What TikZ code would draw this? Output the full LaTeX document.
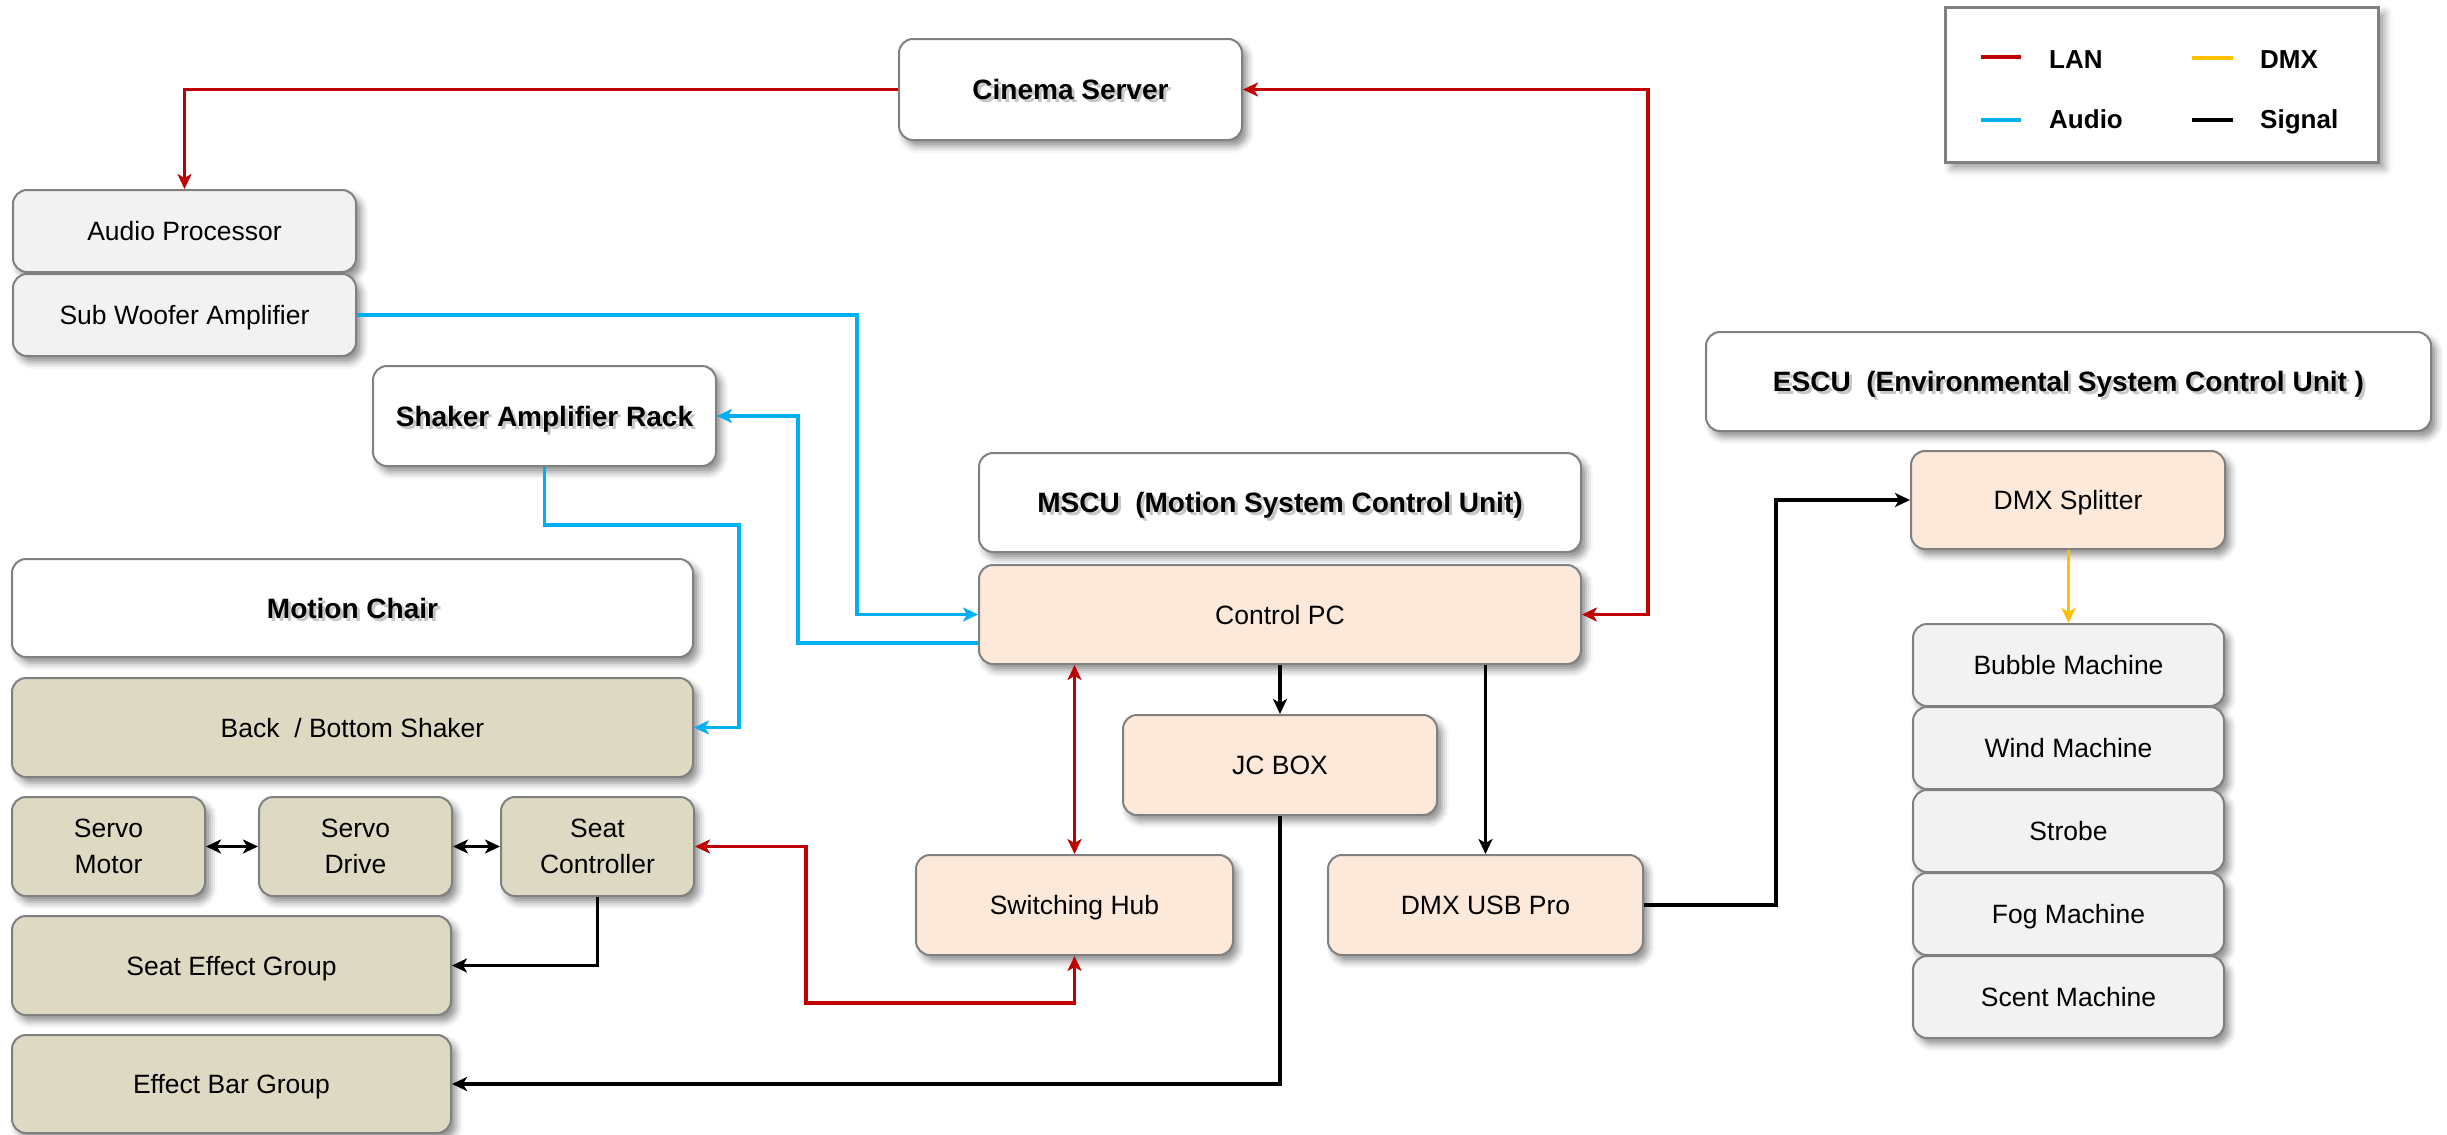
\documentclass[tikz,border=0pt]{standalone}
\usepackage{fontspec}
\setmainfont{Liberation Sans}
\usetikzlibrary{arrows.meta,calc,shadows.blur}
\definecolor{boxborder}{HTML}{808080}
\definecolor{boxgray}{HTML}{F2F2F2}
\definecolor{boxpeach}{HTML}{FCE9DA}
\definecolor{boxtan}{HTML}{DDD9C3}
\definecolor{lanred}{HTML}{C00000}
\definecolor{audioblue}{HTML}{00B0F0}
\definecolor{dmxyellow}{HTML}{FFC000}
\newcommand\tsh[1]{\leavevmode\rlap{\kern3pt\raisebox{-3pt}{\color{black!22}#1}}#1}
\newcommand\mybx[7]{\node[#6, minimum width={#4-#2}, minimum height={#5-#3}] (#1) at ({(#2+#4)/2},{(#3+#5)/2}) {#7};}
\tikzset{
  base/.style={draw=boxborder, line width=2pt, rounded corners=14pt,
    blur shadow={shadow xshift=5pt, shadow yshift=-6pt, shadow blur radius=7pt, shadow opacity=45},
    font=\fontsize{26.5}{36}\selectfont, align=center, inner sep=0pt, text depth=0pt},
  graybox/.style={base, fill=boxgray},
  peachbox/.style={base, fill=boxpeach},
  tanbox/.style={base, fill=boxtan},
  titlebox/.style={base, fill=white, font=\bfseries\fontsize{28}{34}\selectfont},
  wire/.style={line width=3.5pt, >={Stealth[length=15pt,width=14pt,inset=4pt]}},
  lan/.style={wire, draw=lanred},
  audio/.style={wire, draw=audioblue},
  dmx/.style={wire, draw=dmxyellow},
  sig/.style={wire, draw=black},
  legtext/.style={font=\bfseries\fontsize{26}{30}\selectfont, anchor=base west, inner sep=0pt},
}
\begin{document}
\begin{tikzpicture}[x=1pt,y=-1pt]
\useasboundingbox (0,0) rectangle (2447,1135);
% legend
\node[draw=boxborder, line width=2.5pt, fill=white,
  blur shadow={shadow xshift=6pt, shadow yshift=-6pt, shadow blur radius=8pt, shadow opacity=40},
  minimum width=433, minimum height=155] (leg) at (2162,85) {};
\draw[line width=4pt, lanred] (1981,57) -- (2021,57);
\draw[line width=4pt, dmxyellow] (2192,58) -- (2233,58);
\draw[line width=4pt, audioblue] (1981,120) -- (2021,120);
\draw[line width=4pt, black] (2192,120) -- (2233,120);
\node[legtext] (tlan) at (2049,68) {LAN};
\node[legtext] (tdmx) at (2260,68) {DMX};
\node[legtext] (taud) at (2049,128) {Audio};
\node[legtext] (tsig) at (2260,128) {Signal};
% boxes
\mybx{cs}{899}{39}{1242}{140}{titlebox}{\tsh{Cinema Server}}
\mybx{ap}{13}{190}{356}{272}{graybox}{Audio Processor}
\mybx{sw}{13}{274}{356}{356}{graybox}{Sub Woofer Amplifier}
\mybx{sar}{373}{366}{716}{466}{titlebox}{\tsh{Shaker Amplifier Rack}}
\mybx{mc}{12}{559}{693}{657}{titlebox}{\tsh{Motion Chair}}
\mybx{bb}{12}{678}{693}{777}{tanbox}{Back\ \ / Bottom Shaker}
\mybx{sm}{12}{797}{205}{896}{tanbox}{Servo\\Motor}
\mybx{sd}{259}{797}{452}{896}{tanbox}{Servo\\Drive}
\mybx{sc}{501}{797}{694}{896}{tanbox}{Seat\\Controller}
\mybx{seg}{12}{916}{451}{1015}{tanbox}{Seat Effect Group}
\mybx{ebg}{12}{1035}{451}{1133}{tanbox}{Effect Bar Group}
\mybx{mscu}{979}{453}{1581}{552}{titlebox}{\tsh{MSCU\ \ (Motion System Control Unit)}}
\mybx{pc}{979}{565}{1581}{664}{peachbox}{Control PC}
\mybx{jc}{1123}{715}{1437}{815}{peachbox}{JC BOX}
\mybx{hub}{916}{855}{1233}{955}{peachbox}{Switching Hub}
\mybx{usb}{1328}{855}{1643}{955}{peachbox}{DMX USB Pro}
\mybx{escu}{1706}{332}{2431}{431}{titlebox}{\tsh{ESCU\ \ (Environmental System Control Unit )}}
\mybx{spl}{1911}{451}{2225}{549}{peachbox}{DMX Splitter}
\mybx{bub}{1913}{624}{2224}{706}{graybox}{Bubble Machine}
\mybx{wind}{1913}{707}{2224}{789}{graybox}{Wind Machine}
\mybx{strobe}{1913}{790}{2224}{872}{graybox}{Strobe}
\mybx{fog}{1913}{873}{2224}{955}{graybox}{Fog Machine}
\mybx{scent}{1913}{956}{2224}{1038}{graybox}{Scent Machine}
% connectors
\draw[lan,->] (cs.west) -| (ap.north);
\draw[lan,<->] (cs.east) -| ($(pc.east)+(66,0)$) -- (pc.east);
\draw[audio,->] (sw.east) -| ($(pc.west)+(-121,0)$) -- (pc.west);
\draw[audio,->] ($(pc.south west)+(0,-22)$) -| ($(sar.east)+(81,0)$) -- (sar.east);
\draw[audio,->] (sar.south) -- ++(0,58) -| ($(bb.east)+(45,0)$) -- (bb.east);
\draw[sig,<->] (sm.east) -- (sd.west);
\draw[sig,<->] (sd.east) -- (sc.west);
\draw[sig,->] (sc.south) |- (seg.east);
\draw[lan,<->] (hub.south) -- ++(0,47) -| ($(sc.east)+(111,0)$) -- (sc.east);
\draw[lan,<->] (pc.south -| hub.north) -- (hub.north);
\draw[sig,->] (pc.south -| jc.north) -- (jc.north);
\draw[sig,->] (pc.south -| usb.north) -- (usb.north);
\draw[sig,->] (jc.south) |- (ebg.east);
\draw[sig,->] (usb.east) -| ($(spl.west)+(-134,0)$) -- (spl.west);
\draw[dmx,->] (spl.south -| bub.north) -- (bub.north);
\end{tikzpicture}
\end{document}
